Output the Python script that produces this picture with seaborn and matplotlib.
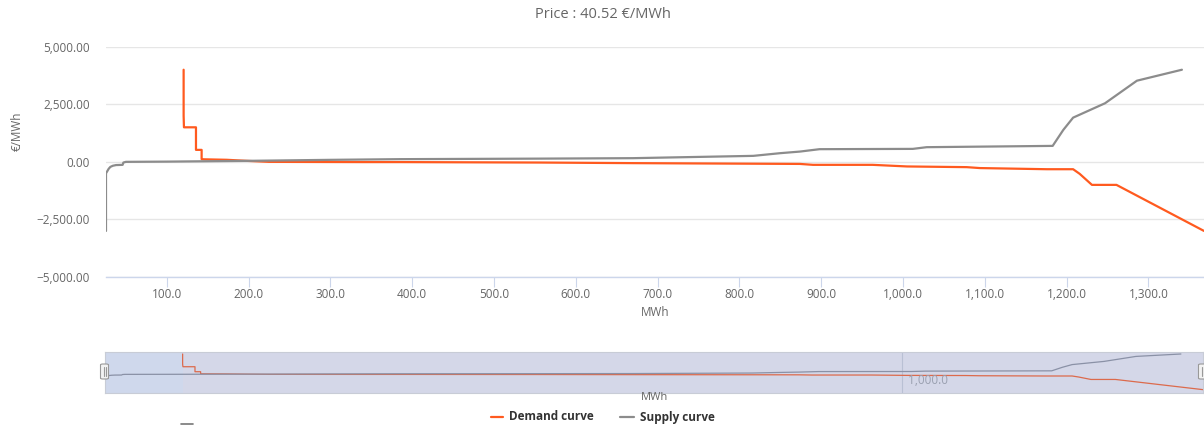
import pandas as pd
import matplotlib
matplotlib.use("Agg")
import matplotlib.pyplot as plt
import seaborn as sns
from matplotlib.lines import Line2D
from matplotlib.patches import FancyBboxPatch

# Curva de procura (MWh, €/MWh)
demand_mwh = [120.6, 120.6, 121.0, 135.7, 135.7, 142.6, 142.6, 145.8, 173, 200, 225, 340,
              385, 556, 670, 874, 890, 963, 1005, 1078, 1094, 1176, 1180, 1208, 1216,
              1231, 1261, 1368]
demand_price = [4000, 2000, 1500, 1500, 520, 520, 117, 110, 90, 40, 0, -10,
                -10, -30, -56, -90, -130, -130, -200, -230, -270, -320, -320, -320, -520,
                -1000, -1000, -3000]

# Curva de oferta (MWh, €/MWh)
supply_mwh = [25.7, 25.7, 27, 29, 31, 34, 38, 46, 47, 50, 100, 197, 300, 385, 556, 670,
              817, 850, 874, 898, 1012, 1029, 1183, 1196, 1208, 1247, 1286, 1341]
supply_price = [-3000, -500, -420, -300, -220, -170, -140, -130, -30, 0, 10, 43, 87, 117,
                140, 160, 260, 377, 446, 550, 563, 637, 693, 1387, 1920, 2544, 3524, 4000]

x_ticks = [100, 200, 300, 400, 500, 600, 700, 800, 900, 1000, 1100, 1200, 1300]
y_ticks = [-5000, -2500, 0, 2500, 5000]
nav_ticks = [1000]
titulo = "Price : 40.52 €/MWh"
x_min, x_max = 25.7, 1368

cores = {"Demand curve": "#ff5a1f", "Supply curve": "#8c8c8c"}
cores_nav = {"Demand curve": "#dc6a4c", "Supply curve": "#8a91a6"}

df = pd.concat([
    pd.DataFrame({"MWh": demand_mwh, "preco": demand_price, "curva": "Demand curve"}),
    pd.DataFrame({"MWh": supply_mwh, "preco": supply_price, "curva": "Supply curve"}),
], ignore_index=True)

sns.set_theme(style="white")
plt.rcParams["font.family"] = ["Open Sans", "DejaVu Sans"]

W, H = 1204, 425
fig = plt.figure(figsize=(W / 100, H / 100), dpi=100)

# Gráfico principal
ax = fig.add_axes([106 / W, 1 - 277 / H, (1204 - 106) / W, (277 - 46.7) / H])
sns.lineplot(data=df, x="MWh", y="preco", hue="curva", palette=cores, sort=False,
             estimator=None, linewidth=1.6, legend=False, ax=ax)
ax.set_xlim(x_min, x_max)
ax.set_ylim(-5000, 5000)
ax.set_xticks(x_ticks)
ax.set_xticklabels([f"{v:,.1f}" for v in x_ticks])
ax.set_yticks(y_ticks)
ax.set_yticklabels([f"{v:,.2f}".replace("-", "\u2212") for v in y_ticks])
ax.yaxis.grid(True, color="#e6e6e6", linewidth=1)
ax.xaxis.grid(False)
ax.set_axisbelow(True)
for s in ["top", "right", "left"]:
    ax.spines[s].set_visible(False)
ax.spines["bottom"].set_color("#ccd6eb")
ax.spines["bottom"].set_linewidth(1)
ax.tick_params(axis="x", bottom=True, length=7, width=0.8, color="#ccd6eb",
               labelsize=8.5, labelcolor="#666666", pad=1)
ax.tick_params(axis="y", length=0, labelsize=8.5, labelcolor="#666666", pad=11.5)
ax.set_xlabel("")
ax.set_ylabel("")

fig.text(603 / W, 1 - 14 / H, titulo, ha="center", va="center", fontsize=10.5, color="#666666")
fig.text(17 / W, 1 - 131 / H, "€/MWh", ha="center", va="center", rotation=90,
         fontsize=8.5, color="#666666")
fig.text(655 / W, 1 - 312 / H, "MWh", ha="center", va="center", fontsize=8.5, color="#666666")

# Navegador
nav = fig.add_axes([105 / W, 1 - 392.7 / H, (1203 - 105) / W, (392.7 - 351.7) / H])
nav.axvspan(x_min, demand_mwh[0], color="#cfd8ec", lw=0, zorder=0)
nav.axvspan(demand_mwh[0], x_max, color="#d4d7e8", lw=0, zorder=0)
sns.lineplot(data=df, x="MWh", y="preco", hue="curva", palette=cores_nav, sort=False,
             estimator=None, linewidth=0.9, legend=False, ax=nav)
nav.set_xlim(x_min, x_max)
nav.set_ylim(-3600, 4450)
nav.set_yticks([])
nav.set_xticks(nav_ticks)
nav.set_xticklabels([])
nav.xaxis.grid(True, color="#b9c0d4", linewidth=0.8)
nav.tick_params(axis="x", length=0)
nav.set_xlabel("")
nav.set_ylabel("")
for s in nav.spines.values():
    s.set_color("#c8ccd6")
    s.set_linewidth(0.8)
for t in nav_ticks:
    nav.text(t, 0.3, f"  {t:,.1f}", transform=nav.get_xaxis_transform(), ha="left",
             va="center", fontsize=8.5, color="#9aa0b0")
fig.text(655 / W, 1 - 398 / H, "MWh", ha="center", va="center", fontsize=8, color="#666666")

# Alças do navegador
for hx in [100.5, 1198.5]:
    fig.add_artist(FancyBboxPatch(((hx) / W, 1 - 379 / H), 8 / W, 15 / H,
                                  boxstyle="round,pad=0,rounding_size=0.002",
                                  transform=fig.transFigure, facecolor="#f2f2f2",
                                  edgecolor="#999999", linewidth=0.8))
    for dx in [3, 5]:
        fig.add_artist(Line2D([(hx + dx) / W] * 2, [1 - 376 / H, 1 - 367 / H],
                              transform=fig.transFigure, color="#999999", linewidth=0.8))

# Legenda
leg = [("Demand curve", 491, 503, 509), ("Supply curve", 620, 634, 640)]
for nome, x0, x1, xt in leg:
    fig.add_artist(Line2D([x0 / W, x1 / W], [1 - 417 / H] * 2, transform=fig.transFigure,
                          color=cores[nome], linewidth=1.6))
    fig.text(xt / W, 1 - 417 / H, nome, ha="left", va="center", fontsize=8.5,
             fontweight="bold", color="#333333")

fig.add_artist(Line2D([181 / W, 193 / W], [1 - 424 / H] * 2, transform=fig.transFigure,
                      color="#777777", linewidth=1.2))

fig.savefig("out.png", dpi=100)
